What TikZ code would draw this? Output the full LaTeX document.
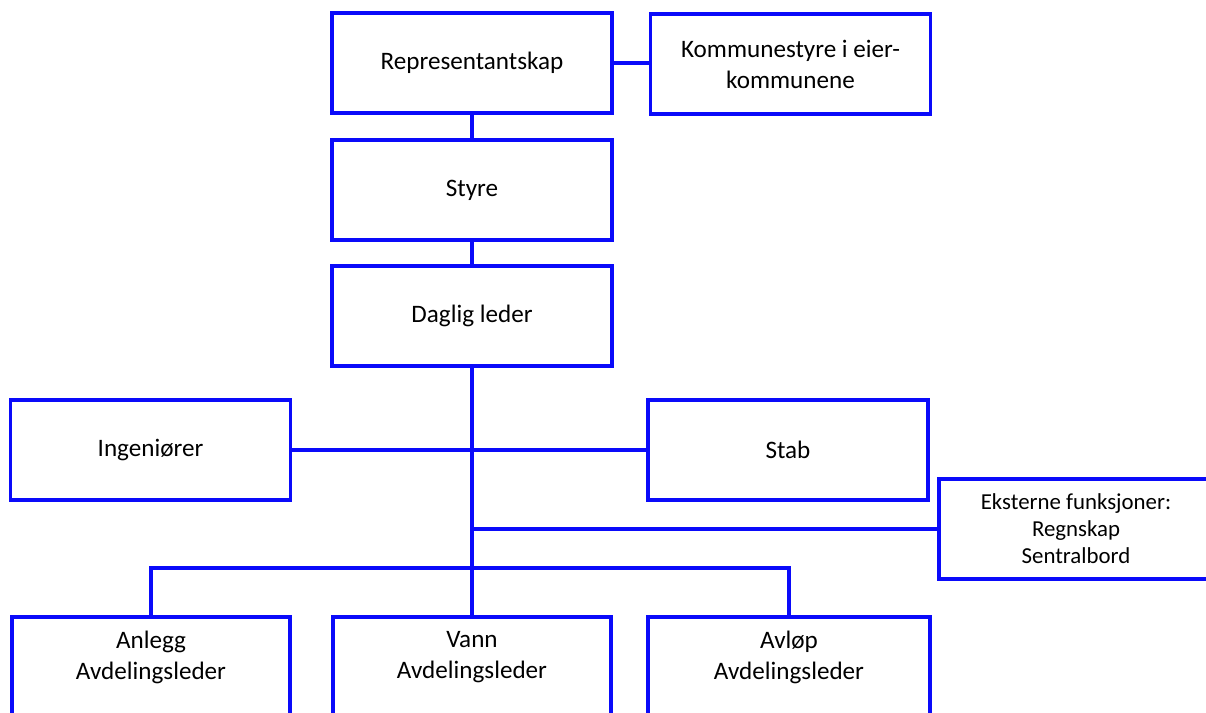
\documentclass[tikz,border=0pt]{standalone}
\usepackage{fontspec}
\setmainfont{Carlito}
\definecolor{orgblue}{RGB}{10,10,250}
\begin{document}
\begin{tikzpicture}
    \tikzstyle{line} = [draw=orgblue, line width=2.2pt]
    \tikzstyle{rec} = [rectangle, draw=orgblue, line width=2.2pt, align=center,
    minimum width=5.6cm, minimum height=2cm, font=\fontsize{14.3pt}{17.6pt}\selectfont]
    \tikzstyle{small} = [rec, font=\fontsize{13pt}{15.4pt}\selectfont]

    \clip (0,0) rectangle (24.12,-14.26);

    \node(rep) [rec] at (9.44,-1.26) {Representantskap};
    \node(kom) [rec] at (15.81,-1.28) {Kommunestyre i eier-\\kommunene};
    \node(styre) [rec, below of=rep, node distance=2.54cm] {Styre};
    \node(daglig) [rec, below of=styre, node distance=2.52cm] {Daglig leder};
    \node(ingen) [rec] at (3.01,-9.0) {Ingeniører};
    \node(stab) [rec] at (15.76,-9.0) {Stab};
    \node(ekst) [small, minimum width=5.48cm] at (21.52,-10.58)
    {Eksterne funksjoner:\\ Regnskap\\ Sentralbord};
    \node(anlegg) [rec, minimum width=5.56cm] at (3.02,-13.34)
    {Anlegg\\ Avdelingsleder\\[-4pt]\mbox{}};
    \node(vann) [rec, minimum width=5.56cm, below of=daglig, node distance=7.02cm]
    {Vann\\ Avdelingsleder\\[-4pt]\mbox{}};
    \node(avlop) [rec, minimum width=5.64cm] at (15.78,-13.34)
    {Avløp\\ Avdelingsleder\\[-4pt]\mbox{}};
    \coordinate(bus) at (9.44,-11.36);

    \draw[line] (rep.east) -- (rep.east -| kom.west);
    \draw[line] (rep) -- (styre);
    \draw[line] (styre) -- (daglig);
    \draw[line] (daglig) -- (vann);
    \draw[line] (ingen) -- (stab);
    \draw[line] (ekst.west -| daglig.south) -- (ekst.west);
    \draw[line] (anlegg.north) |- (bus) -| (avlop.north);
\end{tikzpicture}
\end{document}
